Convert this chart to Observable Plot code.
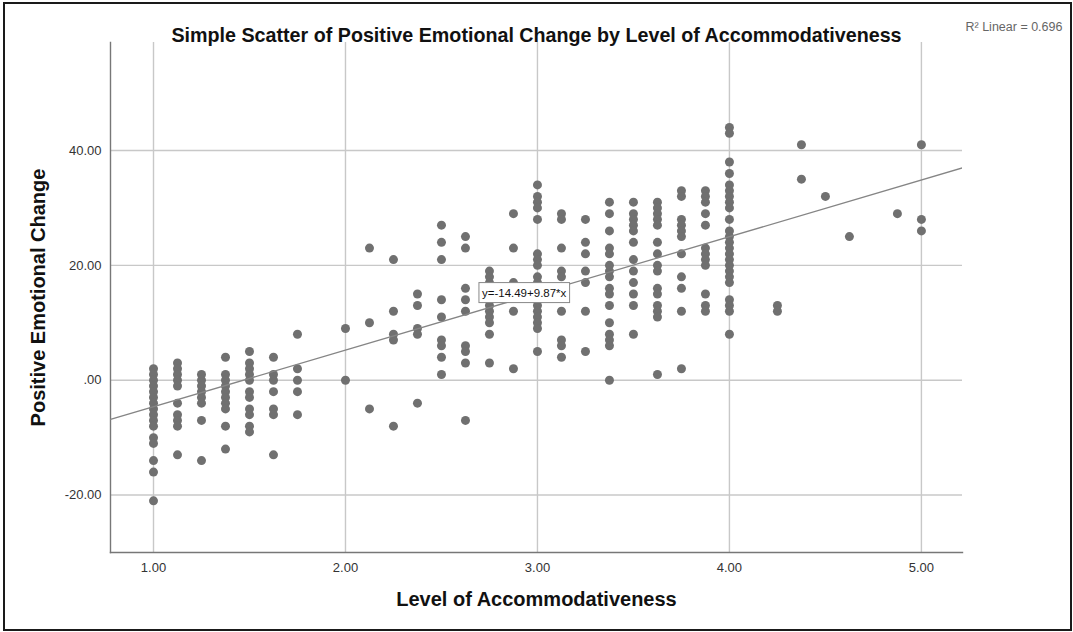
<!DOCTYPE html>
<html>
<head>
<meta charset="utf-8">
<script src="https://cdn.jsdelivr.net/npm/d3@7"></script>
<script src="https://cdn.jsdelivr.net/npm/@observablehq/plot@0.6"></script>
<style>
  html, body { margin: 0; padding: 0; background: #fff; }
  #wrap { position: relative; width: 1073px; height: 632px; overflow: hidden; }
  #border { position: absolute; left: 3px; top: 2px; width: 1065px; height: 625px; border: 2px solid #1a1a1a; pointer-events: none; }
  svg { display: block; }
</style>
</head>
<body>
<div id="wrap"><div id="border"></div></div>
<script>
// Level of accommodativeness (x) and the observed positive emotional change values at each level
const levels = [1, 1.125, 1.25, 1.375, 1.5, 1.625, 1.75, 2, 2.125, 2.25, 2.375, 2.5, 2.625, 2.75, 2.875,
  3, 3.125, 3.25, 3.375, 3.5, 3.625, 3.75, 3.875, 4, 4.25, 4.375, 4.5, 4.625, 4.875, 5];
const changes = [
  [2, 1, 0, -1, -2, -3, -4, -5, -6, -7, -8, -10, -11, -14, -16, -21],
  [3, 2, 1, 0, -1, -4, -6, -7, -8, -13],
  [1, 0, -1, -2, -3, -4, -7, -14],
  [4, 1, 0, -1, -2, -3, -4, -5, -8, -12],
  [5, 3, 2, 1, 0, -2, -3, -5, -6, -8, -9],
  [4, 1, 0, -2, -5, -6, -13],
  [8, 2, 0, -2, -6],
  [9, 0],
  [23, 10, -5],
  [21, 12, 8, 7, -8],
  [15, 13, 9, 8, -4],
  [27, 24, 21, 14, 11, 7, 6, 4, 1],
  [25, 23, 16, 14, 12, 6, 5, 3, -7],
  [19, 18, 17, 16, 15, 14, 13, 12, 11, 10, 8, 3],
  [29, 23, 17, 12, 2],
  [34, 32, 31, 30, 28, 22, 21, 20, 18, 17, 15, 13, 12, 11, 10, 9, 5],
  [29, 28, 23, 19, 18, 16, 12, 7, 6, 4],
  [28, 24, 22, 19, 17, 12, 5],
  [31, 29, 26, 23, 22, 20, 19, 18, 16, 15, 13, 10, 8, 7, 6, 0],
  [31, 29, 28, 27, 26, 24, 21, 19, 17, 15, 13, 8],
  [31, 30, 29, 28, 27, 24, 22, 20, 19, 16, 15, 13, 12, 11, 1],
  [33, 32, 28, 27, 26, 25, 22, 18, 16, 12, 2],
  [33, 32, 31, 29, 27, 23, 22, 21, 20, 15, 13, 12],
  [44, 43, 38, 36, 34, 33, 32, 31, 30, 28, 26, 25, 24, 23, 22, 21, 20, 19, 18, 17, 14, 13, 12, 8],
  [13, 12],
  [41, 35],
  [32],
  [25],
  [29],
  [41, 28, 26]
];
const xTicks = [1, 2, 3, 4, 5];
const yTicks = [-20, 0, 20, 40];
const xDomain = [0.776, 5.214];
const yDomain = [-30, 58.8];
const intercept = -14.49;
const slope = 9.87;
const rSquared = 0.696;
const eqLabelX = 2.69;
const eqLabelY = 15.2;

const title = "Simple Scatter of Positive Emotional Change by Level of Accommodativeness";
const xTitle = "Level of Accommodativeness";
const yTitle = "Positive Emotional Change";

const points = levels.flatMap((lv, i) => changes[i].map(v => ({x: lv, y: v})));
const fitLine = xDomain.map(x => ({x, y: intercept + slope * x}));
const fmt = d => d === 0 ? ".00" : d.toFixed(2);
const font = "'Liberation Sans', Arial, sans-serif";

const chart = Plot.plot({
  width: 1073,
  height: 632,
  marginTop: 42,
  marginLeft: 110,
  marginRight: 111,
  marginBottom: 80,
  style: {fontFamily: font, background: "transparent", overflow: "visible"},
  x: {domain: xDomain},
  y: {domain: yDomain},
  marks: [
    Plot.gridX(xTicks, {stroke: "#c8c8c8", strokeOpacity: 1, strokeWidth: 1.4}),
    Plot.gridY(yTicks, {stroke: "#c8c8c8", strokeOpacity: 1, strokeWidth: 1.4}),
    Plot.axisX(xTicks, {tickSize: 0, tickPadding: 10, tickFormat: fmt, fontSize: 13, fill: "#333", label: null}),
    Plot.axisY(yTicks, {tickSize: 0, tickPadding: 9, tickFormat: fmt, fontSize: 13, fill: "#333", label: null}),
    Plot.frame({anchor: "left", stroke: "#777", strokeWidth: 1.4}),
    Plot.frame({anchor: "bottom", stroke: "#777", strokeWidth: 1.4}),
    Plot.dot(points, {x: "x", y: "y", r: 4.5, fill: "#707070", stroke: "none"}),
    Plot.line(fitLine, {x: "x", y: "y", stroke: "#858585", strokeWidth: 1.3, clip: true}),
    Plot.text([`y=${intercept}+${slope}*x`], {x: eqLabelX, y: eqLabelY, text: d => d, textAnchor: "start", dx: 4, fontSize: 11.5, fill: "#111", className: "eqlabel"}),
    Plot.text([title], {frameAnchor: "top", dy: -15, text: d => d, fontSize: 19.7, fontWeight: "bold", fill: "#111"}),
    Plot.text([xTitle], {frameAnchor: "bottom", dy: 53, text: d => d, fontSize: 20, fontWeight: "bold", fill: "#111"}),
    Plot.text([yTitle], {frameAnchor: "left", dx: -72, rotate: -90, textAnchor: "middle", text: d => d, fontSize: 20, fontWeight: "bold", fill: "#111"}),
    Plot.text([`R² Linear = ${rSquared}`], {frameAnchor: "top-right", dx: 3, dy: -20, textAnchor: "start", text: d => d, fontSize: 12.5, fill: "#666"})
  ]
});

document.getElementById("wrap").prepend(chart);

// white box with grey border behind the regression equation
const eq = chart.querySelector(".eqlabel text");
if (eq) {
  const bb = eq.getBBox();
  const rect = document.createElementNS("http://www.w3.org/2000/svg", "rect");
  const t = eq.getAttribute("transform");
  if (t) rect.setAttribute("transform", t);
  rect.setAttribute("x", bb.x - 3);
  rect.setAttribute("y", bb.y - 4);
  rect.setAttribute("width", bb.width + 6);
  rect.setAttribute("height", bb.height + 8);
  rect.setAttribute("fill", "#fff");
  rect.setAttribute("stroke", "#888");
  rect.setAttribute("stroke-width", "1");
  eq.parentNode.insertBefore(rect, eq);
}
</script>
</body>
</html>
